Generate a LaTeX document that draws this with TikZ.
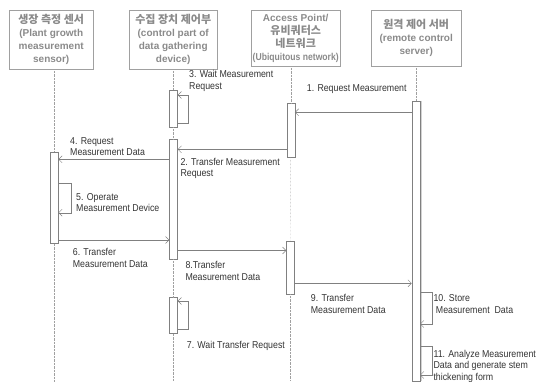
\documentclass[tikz,border=0pt]{standalone}
\usepackage{fontspec}
\setmainfont{Liberation Sans}
\newfontfamily\kofont{Noto Sans CJK KR}
\newfontfamily\lblfont[FakeStretch=0.88]{Liberation Sans}
\usetikzlibrary{arrows.meta}
\definecolor{linegray}{HTML}{808080}
\definecolor{boxgray}{HTML}{A0A0A0}
\definecolor{headgray}{HTML}{8A8A8A}
\tikzset{
  head/.style={draw=boxgray, text=headgray, anchor=north west, align=center, inner sep=0pt,
    font=\bfseries\fontsize{10}{13}\selectfont},
  kor/.style={},
  bar/.style={draw=linegray, fill=white, anchor=north west, minimum width=8pt, inner sep=0pt},
  life/.style={draw=boxgray, densely dotted},
  msg/.style={draw=linegray, -{Straight Barb[length=3.5pt,width=7pt]}},
  lbl/.style={anchor=north west, align=left, inner sep=0pt, text=black!80,
    font=\lblfont\fontsize{10}{11.5}\selectfont}
}
\newcommand{\kortext}[1]{{\kofont\fontsize{11}{13}\selectfont #1}}
\begin{document}
\begin{tikzpicture}[x=1pt,y=-1pt]
\useasboundingbox (0,0) rectangle (537,381);
\node[head, minimum width=84pt, minimum height=59pt] (sensor) at (9,10)
  {\kortext{생장 측정 센서}\\(Plant growth\\measurement\\sensor)};
\node[head, minimum width=88pt, minimum height=59pt] (gather) at (129,10)
  {\kortext{수집 장치 제어부}\\(control part of\\data gathering\\device)};
\node[head, minimum width=89pt, minimum height=56pt] (access) at (251,10)
  {Access Point/\\\kortext{유비쿼터스}\\\kortext{네트워크}\\\scalebox{0.86}[1]{(Ubiquitous network)}};
\node[head, minimum width=90pt, minimum height=56pt] (server) at (371,10)
  {\kortext{원격 제어 서버}\\(remote control\\server)};

\node[bar, minimum height=91.6pt] (b1) at (50,151.7) {};
\node[bar, minimum height=37pt] (w3) at (169.3,90) {};
\node[bar, minimum height=119.7pt] (b2) at (169.3,139.3) {};
\node[bar, minimum height=36pt] (w7) at (169.3,297.3) {};
\node[bar, minimum height=54pt] (b3a) at (286.5,103) {};
\node[bar, minimum height=53.3pt] (b3b) at (286.3,240.7) {};
\node[bar, minimum height=280.3pt] (b4) at (411.7,100.7) {};

\draw[life] (b1.center |- sensor.south) -- (b1.north);
\draw[life] (b1.south) -- (b1.center |- 0,381);
\draw[life] (w3.center |- gather.south) -- (w3.north);
\draw[life] (w3.south) -- (b2.north);
\draw[life] (b2.south) -- (w7.north);
\draw[life] (w7.south) -- (w7.center |- 0,381);
\draw[life] (b3a.center |- access.south) -- (b3a.north);
\draw[life] (b3a.south) -- (b3b.north);
\draw[life] (b3b.south) -- (b3b.center |- 0,381);
\draw[life] (b4.center |- server.south) -- (b4.north);
\draw[draw=gray!35] ([xshift=1.3pt]b4.north east) -- ([xshift=1.3pt]b4.south east);

\draw[msg] (b4.west |- 0,112.3) -- (b3a.east |- 0,112.3);
\draw[msg] (b3a.west |- 0,149.3) -- (b2.east |- 0,149.3);
\draw[msg] (b2.west |- 0,159.3) -- (b1.east |- 0,159.3);
\draw[msg] (b1.east |- 0,240) -- (b2.west |- 0,240);
\draw[msg] (b2.east |- 0,250.5) -- (b3b.west |- 0,250.5);
\draw[msg] (b3b.east |- 0,283.3) -- (b4.west |- 0,283.3);

\draw[msg] (w3.east |- 0,123.3) -- ++(10.7,0) |- (w3.east |- 0,95);
\draw[msg] (b1.east |- 0,182.7) -- ++(12.4,0) |- (b1.east |- 0,212.7);
\draw[msg] (w7.east |- 0,329.3) -- ++(10.7,0) |- (w7.east |- 0,301);
\draw[msg] (b4.east |- 0,291.7) -- ++(11.7,0) |- (b4.east |- 0,324);
\draw[msg] (b4.east |- 0,346) -- ++(11.7,0) |- (b4.east |- 0,375);

\node[lbl] (l1) at (306.7,84) {1. Request Measurement};
\node[lbl] (l2) at (180.3,158) {2. Transfer Measurement\\Request};
\node[lbl] (l3) at (189,70.5) {3. Wait Measurement\\Request};
\node[lbl] (l4) at (70,137) {4. Request\\Measurement Data};
\node[lbl] (l5) at (76,193) {5. Operate\\Measurement Device};
\node[lbl] (l6) at (72.7,248.5) {6. Transfer\\Measurement Data};
\node[lbl] (l7) at (186.7,341) {7. Wait Transfer Request};
\node[lbl] (l8) at (185.3,261.3) {8.Transfer\\Measurement Data};
\node[lbl] (l9) at (310.7,294.5) {9. Transfer\\Measurement Data};
\node[lbl] (l10) at (433.3,294.5) {10. Store\\\ Measurement\ \ Data};
\node[lbl] (l11) at (433.3,350) {11. Analyze Measurement\\Data and generate stem\\thickening form};
\end{tikzpicture}
\end{document}
